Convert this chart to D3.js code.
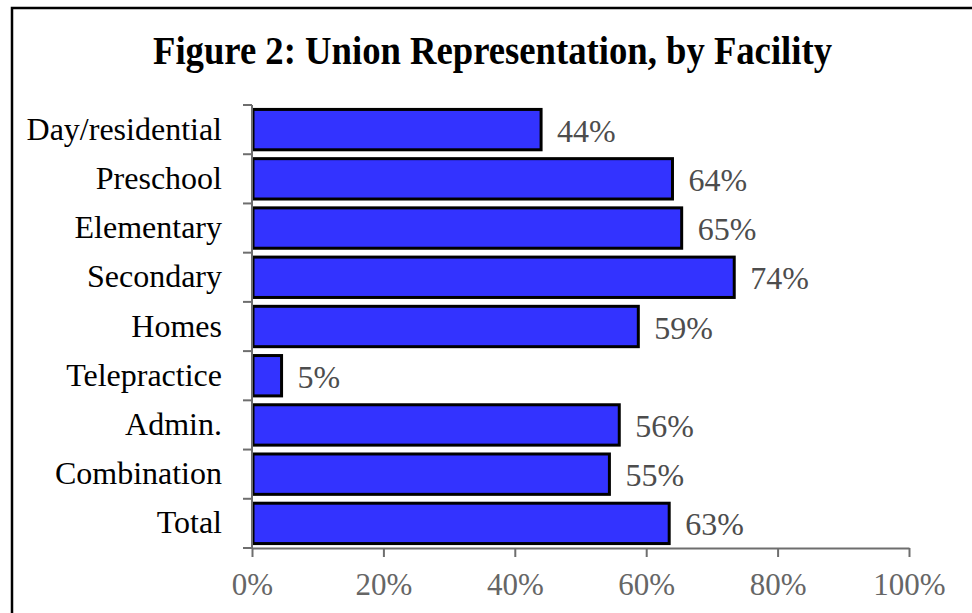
<!DOCTYPE html>
<html>
<head>
<meta charset="utf-8">
<script src="https://cdn.jsdelivr.net/npm/d3@7"></script>
<style>
  body { margin: 0; background: #fff; }
  svg { display: block; }
</style>
</head>
<body>
<svg id="chart" width="972" height="613"></svg>
<script>
const categories = ["Day/residential", "Preschool", "Elementary", "Secondary", "Homes",
                    "Telepractice", "Admin.", "Combination", "Total"];
const values = [44.0, 64.0, 65.4, 73.4, 58.8, 4.5, 55.9, 54.4, 63.5];
const valueLabels = ["44%", "64%", "65%", "74%", "59%", "5%", "56%", "55%", "63%"];
const xTicks = [0, 20, 40, 60, 80, 100];

const svg = d3.select("#chart");
const font = "'Liberation Serif', 'Times New Roman', serif";

// outer frame (runs off right and bottom edges like the original)
svg.append("rect")
    .attr("x", 12).attr("y", 8)
    .attr("width", 980).attr("height", 620)
    .attr("fill", "#fff")
    .attr("stroke", "#000")
    .attr("stroke-width", 2.5);

svg.append("text")
    .attr("x", 492.5).attr("y", 64)
    .attr("text-anchor", "middle")
    .attr("font-family", font)
    .attr("font-weight", "bold")
    .attr("font-size", 39)
    .attr("textLength", 679)
    .attr("lengthAdjust", "spacingAndGlyphs")
    .text("Figure 2: Union Representation, by Facility");

const x = d3.scaleLinear().domain([0, 100]).range([252, 909]);
const y = d3.scaleBand().domain(categories).range([105, 548])
    .paddingInner(0.18).paddingOuter(0.09);

const g = svg.append("g");

// bars
g.selectAll(".bar")
    .data(categories)
    .join("rect")
    .classed("bar", true)
    .attr("x", x(0) + 1)
    .attr("y", d => y(d))
    .attr("width", (d, i) => x(values[i]) - x(0) - 1)
    .attr("height", y.bandwidth())
    .attr("fill", "#3333ff")
    .attr("stroke", "#000")
    .attr("stroke-width", 3);

// value labels
g.selectAll(".val")
    .data(categories)
    .join("text")
    .classed("val", true)
    .attr("x", (d, i) => x(values[i]) + 16)
    .attr("y", d => y(d) + y.bandwidth() / 2 + 12)
    .attr("font-family", font)
    .attr("font-size", 32)
    .attr("fill", "#4d4d4d")
    .text((d, i) => valueLabels[i]);

// category labels
g.selectAll(".cat")
    .data(categories)
    .join("text")
    .classed("cat", true)
    .attr("x", 222)
    .attr("y", d => y(d) + y.bandwidth() / 2 + 10)
    .attr("text-anchor", "end")
    .attr("font-family", font)
    .attr("font-size", 32)
    .attr("fill", "#000")
    .text(d => d);

// left axis: line + ticks at band boundaries
const axisColor = "#6e6e6e";
g.append("line")
    .attr("x1", x(0)).attr("x2", x(0))
    .attr("y1", 105).attr("y2", 548)
    .attr("stroke", axisColor).attr("stroke-width", 2);

const bounds = categories.map(d => y(d) - y.step() * y.paddingInner() / 2).concat([548]);
g.selectAll(".ytick")
    .data(bounds)
    .join("line")
    .classed("ytick", true)
    .attr("x1", x(0) - 9).attr("x2", x(0))
    .attr("y1", d => d).attr("y2", d => d)
    .attr("stroke", axisColor).attr("stroke-width", 2);

// bottom axis
const xAxis = g.append("g")
    .attr("transform", "translate(0,548)")
    .call(d3.axisBottom(x).tickValues(xTicks).tickSize(9).tickSizeOuter(0).tickPadding(16)
        .tickFormat(d => d + "%"));
xAxis.select(".domain").attr("stroke", axisColor).attr("stroke-width", 2);
xAxis.selectAll(".tick line").attr("stroke", axisColor).attr("stroke-width", 2);
xAxis.selectAll(".tick text")
    .attr("font-family", font)
    .attr("font-size", 31)
    .attr("fill", "#666");
</script>
</body>
</html>
